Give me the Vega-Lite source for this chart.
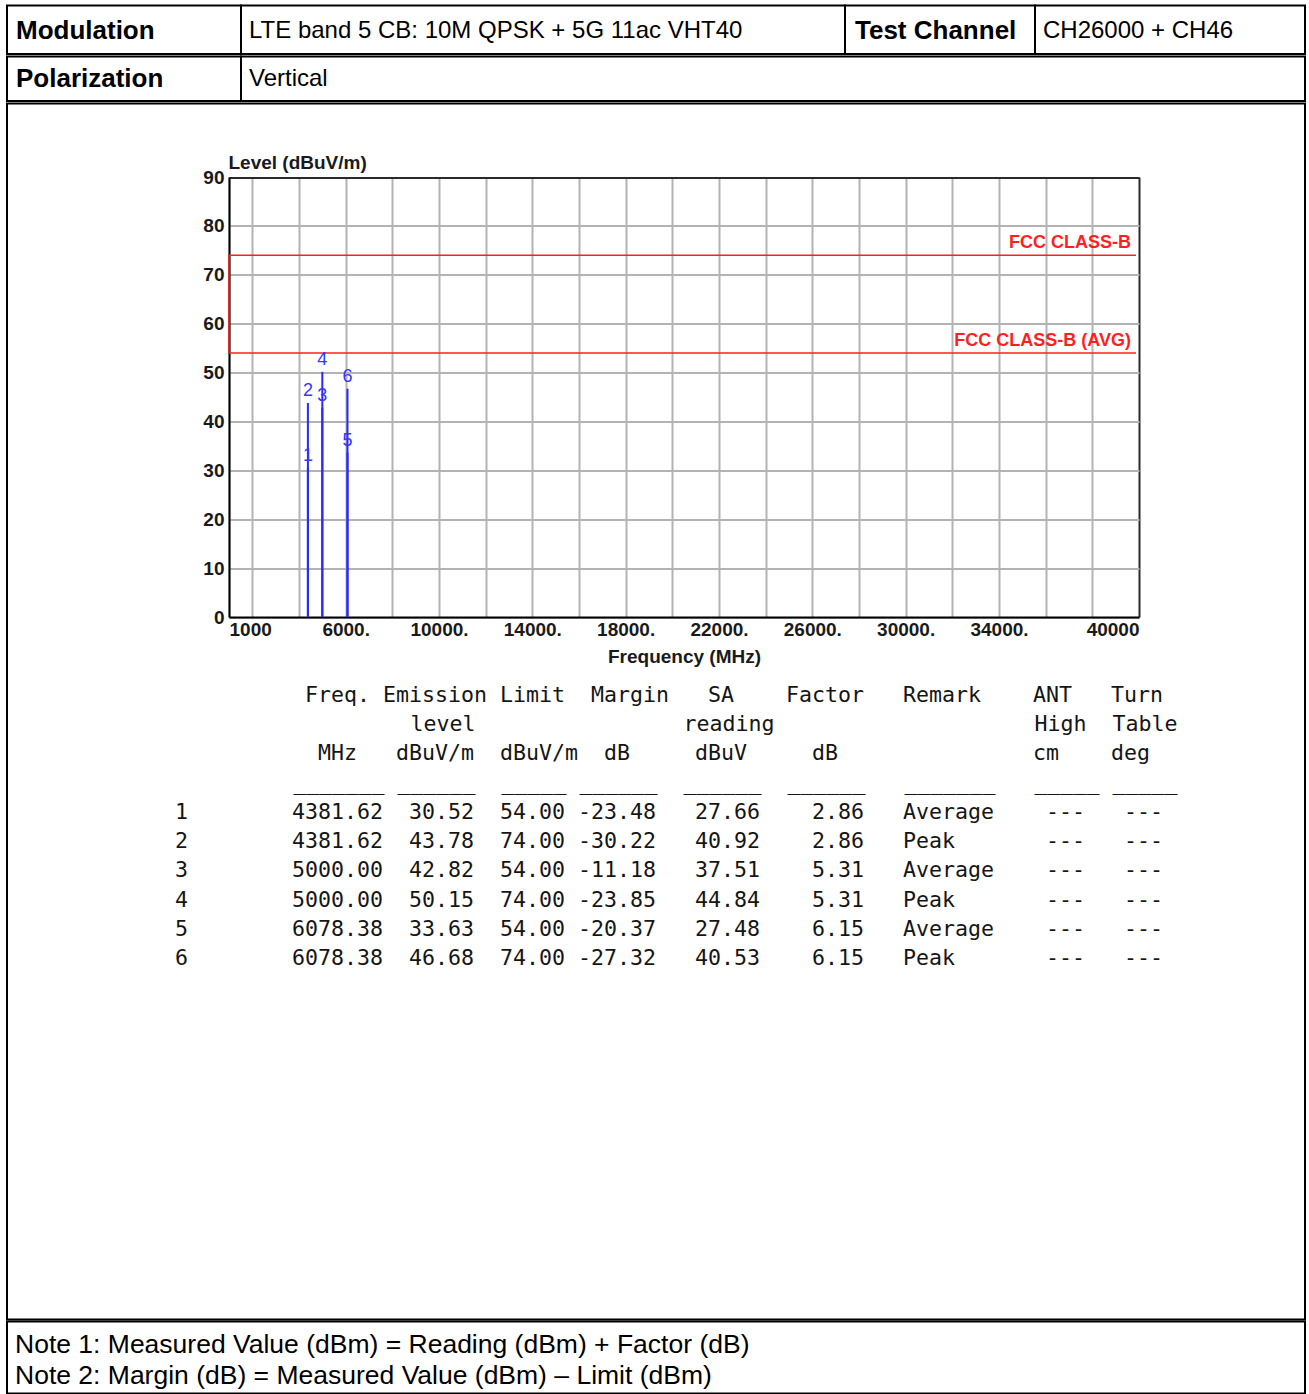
{
  "$schema": "https://vega.github.io/schema/vega-lite/v6.json",
  "background": "white",
  "padding": {"left": 6, "top": 4.5, "right": 3, "bottom": 0.5},
  "autosize": {"type": "pad"},
  "spacing": 0,
  "bounds": "full",
  "config": {
    "view": {"stroke": "#000000", "strokeWidth": 2},
    "text": {"font": "Liberation Sans", "color": "#000000"}
  },
  "datasets": {
    "meas": [
      {"no": "1", "freq": 4381.62, "level": 30.52, "limit": 54.0, "margin": -23.48, "reading": 27.66, "factor": 2.86, "remark": "Average"},
      {"no": "2", "freq": 4381.62, "level": 43.78, "limit": 74.0, "margin": -30.22, "reading": 40.92, "factor": 2.86, "remark": "Peak"},
      {"no": "3", "freq": 5000.0, "level": 42.82, "limit": 54.0, "margin": -11.18, "reading": 37.51, "factor": 5.31, "remark": "Average"},
      {"no": "4", "freq": 5000.0, "level": 50.15, "limit": 74.0, "margin": -23.85, "reading": 44.84, "factor": 5.31, "remark": "Peak"},
      {"no": "5", "freq": 6078.38, "level": 33.63, "limit": 54.0, "margin": -20.37, "reading": 27.48, "factor": 6.15, "remark": "Average"},
      {"no": "6", "freq": 6078.38, "level": 46.68, "limit": 74.0, "margin": -27.32, "reading": 40.53, "factor": 6.15, "remark": "Peak"}
    ],
    "limitLine": [
      {"freq": 39870, "limit": 74, "seq": 1},
      {"freq": 1000, "limit": 74, "seq": 2},
      {"freq": 1000, "limit": 54, "seq": 3},
      {"freq": 39870, "limit": 54, "seq": 4}
    ],
    "limitLabels": [
      {"label": "FCC CLASS-B", "limit": 74},
      {"label": "FCC CLASS-B (AVG)", "limit": 54}
    ],
    "tableLines": [
      {"line": 0, "text": "\u2800\u00a0\u00a0\u00a0\u00a0\u00a0\u00a0\u00a0\u00a0\u00a0\u00a0\u00a0\u00a0Freq.\u00a0Emission\u00a0Limit\u00a0\u00a0Margin\u00a0\u00a0\u00a0SA\u00a0\u00a0\u00a0\u00a0Factor\u00a0\u00a0\u00a0Remark\u00a0\u00a0\u00a0\u00a0ANT\u00a0\u00a0\u00a0Turn\u2800"},
      {"line": 1, "text": "\u2800\u00a0\u00a0\u00a0\u00a0\u00a0\u00a0\u00a0\u00a0\u00a0\u00a0\u00a0\u00a0\u00a0\u00a0\u00a0\u00a0\u00a0\u00a0\u00a0\u00a0level\u00a0\u00a0\u00a0\u00a0\u00a0\u00a0\u00a0\u00a0\u00a0\u00a0\u00a0\u00a0\u00a0\u00a0\u00a0\u00a0reading\u00a0\u00a0\u00a0\u00a0\u00a0\u00a0\u00a0\u00a0\u00a0\u00a0\u00a0\u00a0\u00a0\u00a0\u00a0\u00a0\u00a0\u00a0\u00a0\u00a0High\u00a0\u00a0Table"},
      {"line": 2, "text": "\u2800\u00a0\u00a0\u00a0\u00a0\u00a0\u00a0\u00a0\u00a0\u00a0\u00a0\u00a0\u00a0\u00a0MHz\u00a0\u00a0\u00a0dBuV/m\u00a0\u00a0dBuV/m\u00a0\u00a0dB\u00a0\u00a0\u00a0\u00a0\u00a0dBuV\u00a0\u00a0\u00a0\u00a0\u00a0dB\u00a0\u00a0\u00a0\u00a0\u00a0\u00a0\u00a0\u00a0\u00a0\u00a0\u00a0\u00a0\u00a0\u00a0\u00a0cm\u00a0\u00a0\u00a0\u00a0deg\u00a0\u2800"},
      {"line": 3, "text": "\u2800\u00a0\u00a0\u00a0\u00a0\u00a0\u00a0\u00a0\u00a0\u00a0\u00a0\u00a0_______\u00a0______\u00a0\u00a0_____\u00a0______\u00a0\u00a0______\u00a0\u00a0______\u00a0\u00a0\u00a0_______\u00a0\u00a0\u00a0_____\u00a0_____"},
      {"line": 4, "text": "\u2800\u00a0\u00a01\u00a0\u00a0\u00a0\u00a0\u00a0\u00a0\u00a0\u00a04381.62\u00a0\u00a030.52\u00a0\u00a054.00\u00a0-23.48\u00a0\u00a0\u00a027.66\u00a0\u00a0\u00a0\u00a02.86\u00a0\u00a0\u00a0Average\u00a0\u00a0\u00a0\u00a0---\u00a0\u00a0\u00a0---\u2800"},
      {"line": 5, "text": "\u2800\u00a0\u00a02\u00a0\u00a0\u00a0\u00a0\u00a0\u00a0\u00a0\u00a04381.62\u00a0\u00a043.78\u00a0\u00a074.00\u00a0-30.22\u00a0\u00a0\u00a040.92\u00a0\u00a0\u00a0\u00a02.86\u00a0\u00a0\u00a0Peak\u00a0\u00a0\u00a0\u00a0\u00a0\u00a0\u00a0---\u00a0\u00a0\u00a0---\u2800"},
      {"line": 6, "text": "\u2800\u00a0\u00a03\u00a0\u00a0\u00a0\u00a0\u00a0\u00a0\u00a0\u00a05000.00\u00a0\u00a042.82\u00a0\u00a054.00\u00a0-11.18\u00a0\u00a0\u00a037.51\u00a0\u00a0\u00a0\u00a05.31\u00a0\u00a0\u00a0Average\u00a0\u00a0\u00a0\u00a0---\u00a0\u00a0\u00a0---\u2800"},
      {"line": 7, "text": "\u2800\u00a0\u00a04\u00a0\u00a0\u00a0\u00a0\u00a0\u00a0\u00a0\u00a05000.00\u00a0\u00a050.15\u00a0\u00a074.00\u00a0-23.85\u00a0\u00a0\u00a044.84\u00a0\u00a0\u00a0\u00a05.31\u00a0\u00a0\u00a0Peak\u00a0\u00a0\u00a0\u00a0\u00a0\u00a0\u00a0---\u00a0\u00a0\u00a0---\u2800"},
      {"line": 8, "text": "\u2800\u00a0\u00a05\u00a0\u00a0\u00a0\u00a0\u00a0\u00a0\u00a0\u00a06078.38\u00a0\u00a033.63\u00a0\u00a054.00\u00a0-20.37\u00a0\u00a0\u00a027.48\u00a0\u00a0\u00a0\u00a06.15\u00a0\u00a0\u00a0Average\u00a0\u00a0\u00a0\u00a0---\u00a0\u00a0\u00a0---\u2800"},
      {"line": 9, "text": "\u2800\u00a0\u00a06\u00a0\u00a0\u00a0\u00a0\u00a0\u00a0\u00a0\u00a06078.38\u00a0\u00a046.68\u00a0\u00a074.00\u00a0-27.32\u00a0\u00a0\u00a040.53\u00a0\u00a0\u00a0\u00a06.15\u00a0\u00a0\u00a0Peak\u00a0\u00a0\u00a0\u00a0\u00a0\u00a0\u00a0---\u00a0\u00a0\u00a0---\u2800"}
    ],
    "notes": [
      {"line": 1, "text": "Note 1: Measured Value (dBm) = Reading (dBm) + Factor (dB)"},
      {"line": 2, "text": "Note 2: Margin (dB) = Measured Value (dBm) \u2013 Limit (dBm)"}
    ]
  },
  "vconcat": [
    {
      "spacing": 0,
      "bounds": "flush",
      "hconcat": [
        {
          "width": 234, "height": 48.5,
          "data": {"values": [{"text": "Modulation"}]},
          "mark": {"type": "text", "align": "left", "baseline": "middle", "dx": 9, "dy": 1.25, "font": "Liberation Sans", "fontSize": 26, "fontWeight": "bold", "color": "#000000"},
          "encoding": {"x": {"datum": 0, "type": "quantitative", "scale": {"domain": [0, 1]}, "axis": null}, "text": {"field": "text"}}
        },
        {
          "width": 604, "height": 48.5,
          "data": {"values": [{"text": "LTE band 5 CB: 10M QPSK + 5G 11ac VHT40"}]},
          "mark": {"type": "text", "align": "left", "baseline": "middle", "dx": 8, "dy": 1.25, "font": "Liberation Sans", "fontSize": 24, "color": "#000000"},
          "encoding": {"x": {"datum": 0, "type": "quantitative", "scale": {"domain": [0, 1]}, "axis": null}, "text": {"field": "text"}}
        },
        {
          "width": 190, "height": 48.5,
          "data": {"values": [{"text": "Test Channel"}]},
          "mark": {"type": "text", "align": "left", "baseline": "middle", "dx": 10, "dy": 1.25, "font": "Liberation Sans", "fontSize": 26, "fontWeight": "bold", "color": "#000000"},
          "encoding": {"x": {"datum": 0, "type": "quantitative", "scale": {"domain": [0, 1]}, "axis": null}, "text": {"field": "text"}}
        },
        {
          "width": 270, "height": 48.5,
          "data": {"values": [{"text": "CH26000 + CH46"}]},
          "mark": {"type": "text", "align": "left", "baseline": "middle", "dx": 8, "dy": 1.25, "font": "Liberation Sans", "fontSize": 24, "color": "#000000"},
          "encoding": {"x": {"datum": 0, "type": "quantitative", "scale": {"domain": [0, 1]}, "axis": null}, "text": {"field": "text"}}
        }
      ]
    },
    {
      "spacing": 0,
      "bounds": "flush",
      "hconcat": [
        {
          "width": 234, "height": 44.5,
          "data": {"values": [{"text": "Polarization"}]},
          "mark": {"type": "text", "align": "left", "baseline": "middle", "dx": 9, "dy": 0.25, "font": "Liberation Sans", "fontSize": 26, "fontWeight": "bold", "color": "#000000"},
          "encoding": {"x": {"datum": 0, "type": "quantitative", "scale": {"domain": [0, 1]}, "axis": null}, "text": {"field": "text"}}
        },
        {
          "width": 1064, "height": 44.5,
          "data": {"values": [{"text": "Vertical"}]},
          "mark": {"type": "text", "align": "left", "baseline": "middle", "dx": 8, "dy": 0.25, "font": "Liberation Sans", "fontSize": 24, "color": "#000000"},
          "encoding": {"x": {"datum": 0, "type": "quantitative", "scale": {"domain": [0, 1]}, "axis": null}, "text": {"field": "text"}}
        }
      ]
    },
    {
      "width": 1298,
      "height": 1216,
      "resolve": {"scale": {"x": "independent", "y": "independent"}},
      "layer": [
        {
          "layer": [
            {
              "data": {"name": "limitLine"},
              "mark": {"type": "line", "color": "#ff1f1f", "strokeWidth": 1.6},
              "encoding": {
                "x": {
                  "field": "freq", "type": "quantitative",
                  "scale": {"type": "linear", "domain": [1000, 40000], "range": [222, 1132], "nice": false, "zero": false},
                  "axis": {
                    "orient": "top", "offset": -513.5,
                    "values": [1000, 2000, 4000, 6000, 8000, 10000, 12000, 14000, 16000, 18000, 20000, 22000, 24000, 26000, 28000, 30000, 32000, 34000, 36000, 38000, 40000],
                    "format": "d",
                    "labelExpr": "indexof([1000, 6000, 10000, 14000, 18000, 22000, 26000, 30000, 34000, 40000], datum.value) < 0 ? '' : ((datum.value == 1000 || datum.value == 40000) ? datum.label : datum.label + '.')",
                    "labelBaseline": "top", "labelPadding": -3, "ticks": false, "tickSize": 0,
                    "labelFlush": true, "labelOverlap": false, "labelBound": false,
                    "labelFont": "Liberation Sans", "labelFontSize": 19, "labelFontWeight": "bold", "labelColor": "#1a1a1a",
                    "grid": true,
                    "gridColor": {"condition": {"test": "datum.value == 40000", "value": "#2a2a2a"}, "value": "#b3b3b3"},
                    "gridWidth": 2,
                    "domain": true, "domainColor": "#000000", "domainWidth": 2,
                    "title": "Frequency (MHz)", "titleFont": "Liberation Sans", "titleFontSize": 19, "titleFontWeight": "bold", "titleColor": "#1a1a1a",
                    "titleY": 39, "titleBaseline": "middle"
                  }
                },
                "y": {
                  "field": "limit", "type": "quantitative",
                  "scale": {"type": "linear", "domain": [0, 90], "range": [513.5, 73.5], "nice": false, "zero": false},
                  "axis": {
                    "orient": "left", "offset": -222,
                    "values": [0, 10, 20, 30, 40, 50, 60, 70, 80, 90],
                    "ticks": false, "tickSize": 0, "labelPadding": 5,
                    "labelFont": "Liberation Sans", "labelFontSize": 19, "labelFontWeight": "bold", "labelColor": "#1a1a1a",
                    "grid": true,
                    "gridColor": {"condition": {"test": "datum.value == 90", "value": "#2a2a2a"}, "value": "#b3b3b3"},
                    "gridWidth": 2,
                    "domain": true, "domainColor": "#000000", "domainWidth": 2,
                    "title": "Level (dBuV/m)", "titleFont": "Liberation Sans", "titleFontSize": 19, "titleFontWeight": "bold", "titleColor": "#1a1a1a",
                    "titleAngle": 0, "titleX": -1, "titleY": 58.5, "titleAlign": "left", "titleBaseline": "middle"
                  }
                },
                "order": {"field": "seq", "type": "quantitative"}
              }
            },
            {
              "data": {"name": "limitLabels"},
              "mark": {"type": "text", "align": "right", "baseline": "alphabetic", "dx": -8, "dy": -7, "font": "Liberation Sans", "fontSize": 18, "fontWeight": "bold", "color": "#ff1f1f"},
              "encoding": {
                "x": {"datum": 40000, "type": "quantitative"},
                "y": {"field": "limit", "type": "quantitative"},
                "text": {"field": "label"}
              }
            },
            {
              "data": {"name": "meas"},
              "mark": {"type": "rule", "color": "#2828ff", "strokeWidth": 2},
              "encoding": {
                "x": {"field": "freq", "type": "quantitative"},
                "y": {"field": "level", "type": "quantitative"},
                "y2": {"datum": 0}
              }
            },
            {
              "data": {"name": "meas"},
              "mark": {"type": "text", "align": "center", "baseline": "alphabetic", "dy": -7, "font": "Liberation Sans", "fontSize": 18, "color": "#3535ff"},
              "encoding": {
                "x": {"field": "freq", "type": "quantitative"},
                "y": {"field": "level", "type": "quantitative"},
                "text": {"field": "no"}
              }
            }
          ]
        },
        {
          "data": {"name": "tableLines"},
          "mark": {"type": "text", "align": "center", "baseline": "middle", "font": "DejaVu Sans Mono", "fontSize": 21.6, "color": "#151515"},
          "encoding": {
            "y": {"field": "line", "type": "ordinal", "scale": {"type": "point", "range": [592.5, 855.5], "padding": 0}, "axis": null},
            "text": {"field": "text"}
          }
        }
      ]
    },
    {
      "width": 1298,
      "height": 72,
      "data": {"name": "notes"},
      "mark": {"type": "text", "align": "left", "baseline": "middle", "dx": 8, "font": "Liberation Sans", "fontSize": 26.5, "color": "#000000"},
      "encoding": {
        "x": {"datum": 0, "type": "quantitative", "scale": {"domain": [0, 1]}, "axis": null},
        "y": {"field": "line", "type": "ordinal", "scale": {"type": "point", "range": [23.5, 54.5], "padding": 0}, "axis": null},
        "text": {"field": "text"}
      }
    }
  ]
}
